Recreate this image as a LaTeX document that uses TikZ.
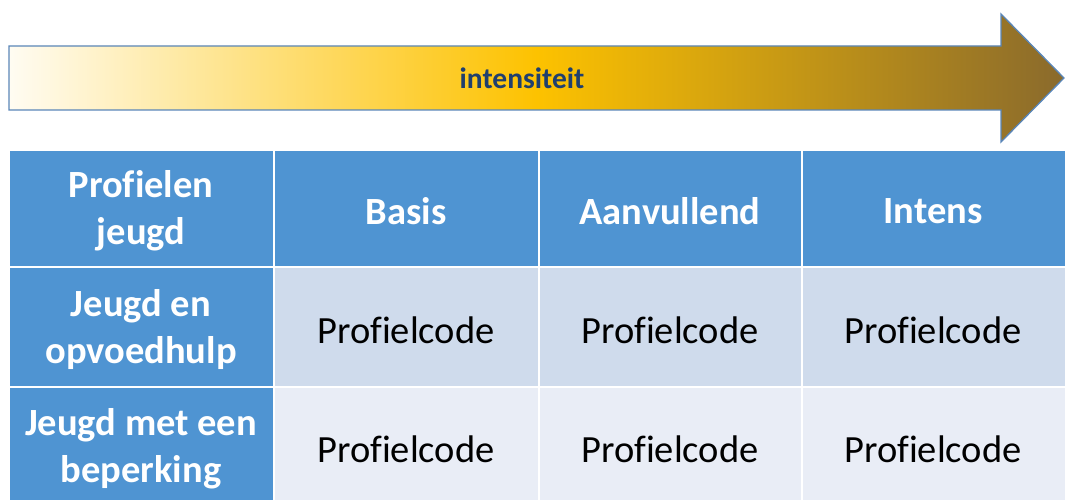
\documentclass[tikz,border=0pt]{standalone}
\usepackage{fontspec}
\setmainfont[Ligatures=NoCommon]{Carlito}
\definecolor{hdrblue}{HTML}{4F94D2}
\definecolor{rowa}{HTML}{CFDBEC}
\definecolor{rowb}{HTML}{E9EDF6}
\definecolor{arrline}{HTML}{5A86B8}
\definecolor{lbl}{HTML}{1F3F6E}
\definecolor{gpale}{HTML}{FFFCF2}
\definecolor{ggold}{HTML}{FDC200}
\definecolor{gbrown}{HTML}{8A6A2C}
\begin{document}
\begin{tikzpicture}[x=1pt,y=-1pt,
  hcell/.style={fill=hdrblue,draw=none},
  acell/.style={fill=rowa,draw=none},
  bcell/.style={fill=rowb,draw=none},
  htext/.style={text=white,font=\fontsize{38.5}{47}\selectfont\bfseries,align=center,inner sep=0pt},
  btext/.style={text=black,font=\fontsize{38.5}{47}\selectfont,align=center,inner sep=0pt}]
\useasboundingbox (0,0) rectangle (1065,500);
% arrow
\path[draw=arrline,line width=1.3pt,left color=gpale,right color=gbrown,middle color=ggold]
  (9,46) -- (1001,46) -- (1001,14) -- (1064,78) -- (1001,142) -- (1001,110) -- (9,110) -- cycle;
\node[text=lbl,font=\fontsize{29.5}{34}\selectfont\bfseries,inner sep=0pt] (lab) at (522,78) {intensiteit};
% cells
\fill[hcell] (10,151) rectangle (273,266);
\fill[hcell] (275,151) rectangle (538,266);
\fill[hcell] (540,151) rectangle (801,266);
\fill[hcell] (803,151) rectangle (1065,266);
\fill[hcell] (10,268) rectangle (273,386);
\fill[acell] (275,268) rectangle (538,386);
\fill[acell] (540,268) rectangle (801,386);
\fill[acell] (803,268) rectangle (1065,386);
\fill[hcell] (10,388) rectangle (273,500);
\fill[bcell] (275,388) rectangle (538,500);
\fill[bcell] (540,388) rectangle (801,500);
\fill[bcell] (803,388) rectangle (1065,500);
% header texts
\node[htext] (h1) at (141,211) {Profielen\\jeugd};
\node[htext] (h2) at (406,211) {Basis};
\node[htext] (h3) at (670,211) {Aanvullend};
\node[htext] (h4) at (933,211) {Intens};
\node[htext] (r1) at (141,330) {Jeugd en\\opvoedhulp};
\node[htext] (r2) at (141,449) {Jeugd met een\\beperking};
\node[btext] (c11) at (406,330) {Profielcode};
\node[btext] (c12) at (670,330) {Profielcode};
\node[btext] (c13) at (933,330) {Profielcode};
\node[btext] (c21) at (406,449) {Profielcode};
\node[btext] (c22) at (670,449) {Profielcode};
\node[btext] (c23) at (933,449) {Profielcode};
\end{tikzpicture}
\end{document}
